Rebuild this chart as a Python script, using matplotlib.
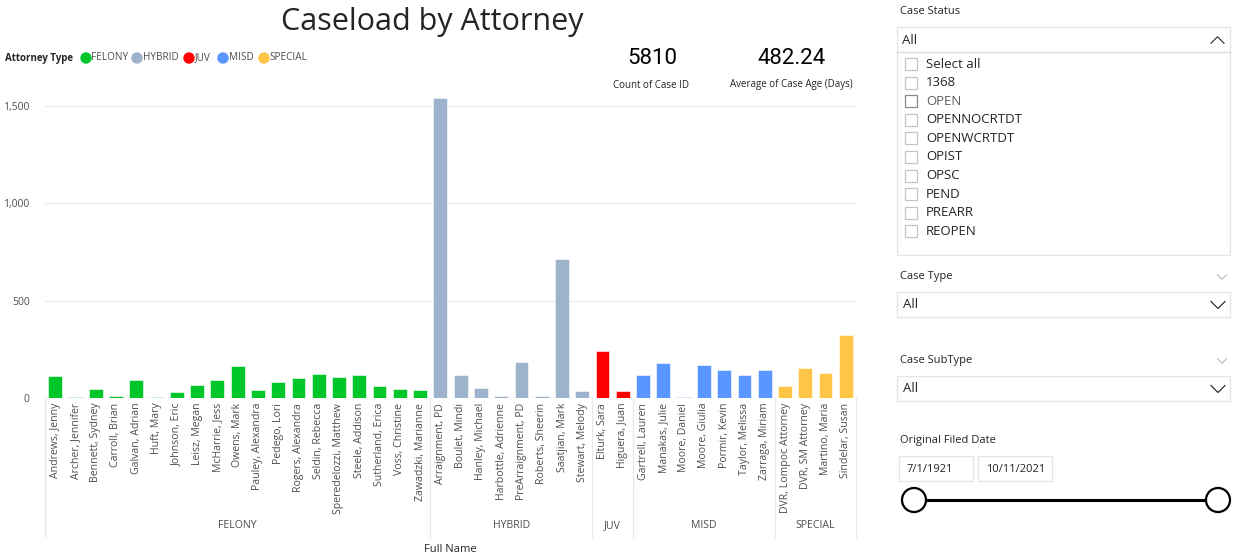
import matplotlib.pyplot as plt
from matplotlib.patches import Rectangle, Circle

plt.rcParams['font.family'] = ['Open Sans', 'DejaVu Sans']

# ---- data ----
groups = ['FELONY', 'HYBRID', 'JUV', 'MISD', 'SPECIAL']
group_colors = ['#00C62A', '#9DB3CB', '#FF0000', '#5A96FF', '#FFC547']

felony_names = ['Andrews, Jenny', 'Archer, Jennifer', 'Bennett, Sydney', 'Carroll, Brian',
                'Galvan, Adrian', 'Huft, Mary', 'Johnson, Eric', 'Leisz, Megan',
                'McHarrie, Jess', 'Owens, Mark', 'Pauley, Alexandra', 'Pedego, Lori',
                'Rogers, Alexandra', 'Seldin, Rebecca', 'Speredelozzi, Matthew',
                'Steele, Addison', 'Sutherland, Erica', 'Voss, Christine', 'Zawadzki, Marianne']
felony_vals = [113, 4, 48, 12, 91, 3, 33, 67, 91, 166, 43, 84, 103, 123, 109, 116, 62, 44, 43]

hybrid_names = ['Arraignment, PD', 'Boulet, Mindi', 'Hanley, Michael', 'Harbottle, Adrienne',
                'PreArraignment, PD', 'Roberts, Sheerin', 'Saatjian, Mark', 'Stewart, Melody']
hybrid_vals = [1540, 120, 50, 10, 186, 10, 715, 36]

juv_names = ['Elturk, Sara', 'Higuera, Juan']
juv_vals = [242, 36]

misd_names = ['Gartrell, Lauren', 'Manakas, Julie', 'Moore, Daniel', 'Moore, Giulia',
              'Pormir, Kevin', 'Taylor, Melissa', 'Zarraga, Miriam']
misd_vals = [120, 180, 5, 172, 144, 117, 146]

special_names = ['DVR, Lompoc Attorney', 'DVR, SM Attorney', 'Martino, Maria', 'Sindelar, Susan']
special_vals = [64, 156, 127, 323]

case_status_items = ['Select all', '1368', 'OPEN', 'OPENNOCRTDT', 'OPENWCRTDT',
                     'OPIST', 'OPSC', 'PEND', 'PREARR', 'REOPEN']

all_names = [felony_names, hybrid_names, juv_names, misd_names, special_names]
all_vals = [felony_vals, hybrid_vals, juv_vals, misd_vals, special_vals]

W, H = 1233, 558
fig = plt.figure(figsize=(W / 100, H / 100), dpi=100)
fig.patch.set_facecolor('white')

ax = fig.add_axes([45 / W, 1 - 398 / H, (856 - 45) / W, (398 - 95) / H])
txt = '#4F4E4C'
dark = '#252423'

names, vals, cols, bounds = [], [], [], [-0.5]
for g, nm, vs, c in zip(groups, all_names, all_vals, group_colors):
    names += nm
    vals += vs
    cols += [c] * len(nm)
    bounds.append(bounds[-1] + len(nm))
x = list(range(len(names)))
ax.bar(x, vals, width=0.68, color=cols, edgecolor='white', linewidth=0.4, zorder=3)

ax.set_xlim(-0.5, len(names) - 0.5)
ax.set_ylim(0, 1556)
for s in ax.spines.values():
    s.set_visible(False)
for v in [500, 1000, 1500]:
    ax.axhline(v, color='#ECECEC', lw=0.9, zorder=1)
ax.axhline(0, color='#E4E4E4', lw=0.9, zorder=1)
ax.set_yticks([0, 500, 1000, 1500])
ax.set_yticklabels([f'{v:,}' for v in [0, 500, 1000, 1500]], fontsize=7.5, color=txt)
ax.set_xticks(x)
ax.set_xticklabels(names, rotation=90, fontsize=7.6, color=txt, va='top')
ax.tick_params(axis='y', length=0, pad=11)
ax.tick_params(axis='x', length=0, pad=3.5)

# group separators and labels
xt = ax.get_xaxis_transform()
for b in bounds:
    ax.plot([b, b], [0, -0.46], color='#E8E8E8', lw=0.9, transform=xt, clip_on=False)
for i, g in enumerate(groups):
    ax.text((bounds[i] + bounds[i + 1]) / 2, -0.422, g, transform=xt, ha='center',
            va='center', fontsize=7.6, color=txt)

# overlay in pixel coordinates for the dashboard parts
ov = fig.add_axes([0, 0, 1, 1])
ov.set_xlim(0, W)
ov.set_ylim(H, 0)
ov.axis('off')

ov.text(432, 22, 'Caseload by Attorney', fontsize=22, color=dark, ha='center', va='center')
ov.text(450, 549, 'Full Name', fontsize=8, color=dark, ha='center', va='center')

# legend
ov.text(5, 58, 'Attorney Type', fontsize=7, fontweight='bold', color=dark, va='center')
for cx, lab, c in zip([86, 137, 189, 223, 264], groups, group_colors):
    ov.add_patch(Circle((cx, 58), 5, color=c))
    ov.text(cx + 5.5, 58, lab, fontsize=7.2, color=txt, va='center')

# cards
ov.text(652, 58, '5810', fontsize=16, color='black', ha='center',
        va='center', family='Roboto')
ov.text(651, 85, 'Count of Case ID', fontsize=7, color=dark, ha='center', va='center')
ov.text(791, 58, '482.24', fontsize=16, color='black', ha='center',
        va='center', family='Roboto')
ov.text(791, 85, 'Average of Case Age (Days)', fontsize=7, color=dark, ha='center', va='center')

# slicer panel
def chevron(xc, yc, w, h, up=False, color='#252423', lw=1.0):
    d = -h if up else h
    ov.plot([xc - w / 2, xc, xc + w / 2], [yc - d / 2, yc + d / 2, yc - d / 2],
            color=color, lw=lw, solid_joinstyle='miter')

border = '#E6E6E6'
ov.text(900, 12, 'Case Status', fontsize=8, color=dark, va='center')
ov.add_patch(Rectangle((897, 27), 333, 228, fill=False, ec=border, lw=1))
ov.plot([897, 1230], [52, 52], color='#DDDDDD', lw=1)
ov.text(902, 40, 'All', fontsize=9.5, color=dark, va='center')
chevron(1217.5, 40, 13, 6.5, up=True, lw=0.8)
for i, item in enumerate(case_status_items):
    y = 64 + i * 18.6
    ec = '#8A8886' if item == 'OPEN' else '#C8C6C4'
    ov.add_patch(Rectangle((905, y - 6), 12, 12, fill=False, ec=ec, lw=0.9))
    ov.text(926, y, item, fontsize=9.5, color='#605E5C' if item == 'OPEN' else dark, va='center')

for label, ly, by in [('Case Type', 277, 292), ('Case SubType', 361, 376)]:
    ov.text(900, ly, label, fontsize=8, color=dark, va='center')
    chevron(1222, ly, 9, 4.5, color='#B0B0B0', lw=0.7)
    ov.add_patch(Rectangle((897, by), 333, 25, fill=False, ec=border, lw=1))
    ov.text(903, by + 13, 'All', fontsize=9.5, color=dark, va='center')
    chevron(1218, by + 13, 14, 7, lw=0.85)

ov.text(900, 441, 'Original Filed Date', fontsize=8, color=dark, va='center')
for bx, d in [(899, '7/1/1921'), (978, '10/11/2021')]:
    ov.add_patch(Rectangle((bx, 456), 74, 25, fill=False, ec=border, lw=1))
    ov.text(bx + 8, 469, d, fontsize=8, color=dark, va='center')
ov.plot([914, 1218], [500, 500], color='black', lw=2.2, zorder=2)
for cx in [914, 1218]:
    ov.add_patch(Circle((cx, 500), 12, facecolor='white', edgecolor='black', lw=1.6, zorder=3))

fig.savefig('out.png', dpi=100)
